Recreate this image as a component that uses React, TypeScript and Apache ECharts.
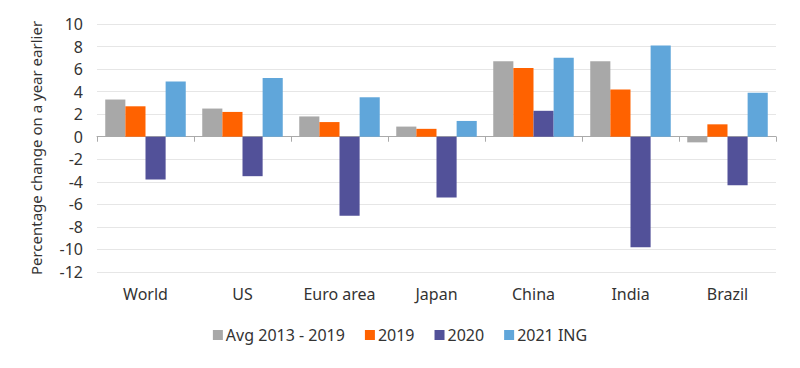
import React, { useEffect, useRef } from "react";
import * as echarts from "echarts";

const categories = ["World", "US", "Euro area", "Japan", "China", "India", "Brazil"];
const avg2013_2019 = [3.3, 2.5, 1.8, 0.9, 6.7, 6.7, -0.5];
const y2019 = [2.7, 2.2, 1.3, 0.7, 6.1, 4.2, 1.1];
const y2020 = [-3.8, -3.5, -7.0, -5.4, 2.3, -9.8, -4.3];
const y2021 = [4.9, 5.2, 3.5, 1.4, 7.0, 8.1, 3.9];
const seriesNames = ["Avg 2013 - 2019", "2019", "2020", "2021 ING"];
const colors = ["#a8a8a8", "#ff6200", "#525199", "#60a6da"];

const FONT = "Noto Sans";

export default function App() {
  const ref = useRef<HTMLDivElement>(null);
  useEffect(() => {
    if (!ref.current) return;
    const chart = echarts.init(ref.current, null, { renderer: "svg" });
    const data = [avg2013_2019, y2019, y2020, y2021];
    chart.setOption({
      animation: false,
      textStyle: { fontFamily: FONT },
      grid: { left: 89, right: 16, top: 16, bottom: 88 },
      legend: {
        bottom: 12,
        left: "center",
        itemWidth: 10,
        itemHeight: 10,
        itemGap: 20,
        icon: "rect",
        textStyle: { fontFamily: FONT, fontSize: 16, color: "#333", padding: [0, 0, 0, -2] },
        data: seriesNames,
      },
      xAxis: [
        {
          type: "category",
          data: categories,
          position: "bottom",
          axisLine: { show: false, onZero: false },
          axisTick: { show: false },
          axisLabel: { fontFamily: FONT, fontSize: 16, color: "#333", margin: 14 },
        },
        {
          type: "category",
          data: categories,
          position: "bottom",
          axisLine: { show: true, onZero: true, lineStyle: { color: "#aaa", width: 1 } },
          axisTick: { show: true, length: 5, lineStyle: { color: "#aaa" } },
          axisLabel: { show: false },
        },
      ],
      yAxis: {
        type: "value",
        min: -12,
        max: 10,
        interval: 2,
        name: "Percentage change on a year earlier",
        nameLocation: "middle",
        nameGap: 54,
        nameTextStyle: { fontFamily: FONT, fontSize: 15, color: "#333" },
        axisLine: { show: false },
        axisTick: { show: false },
        axisLabel: { fontFamily: FONT, fontSize: 16, color: "#333", margin: 14 },
        splitLine: { lineStyle: { color: "#e6e6e6" } },
      },
      series: seriesNames.map((name, i) => ({
        name,
        type: "bar",
        xAxisIndex: 0,
        data: data[i],
        itemStyle: { color: colors[i] },
        barGap: "0%",
        barCategoryGap: "17%",
      })),
    });
    return () => chart.dispose();
  }, []);
  return <div ref={ref} style={{ width: 784, height: 352 }} />;
}
